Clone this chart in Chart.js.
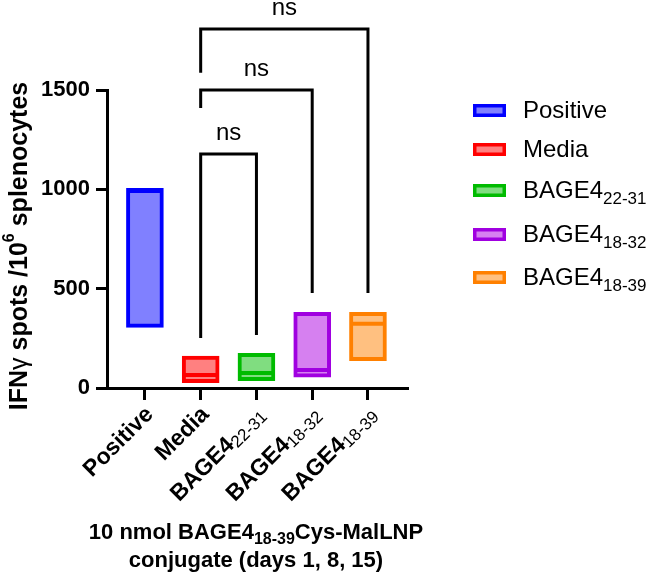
<!DOCTYPE html>
<html lang="en">
  <head>
    <meta charset="UTF-8" />
    <title>IFNg spots</title>
    <script src="https://cdn.jsdelivr.net/npm/chart.js@4.4.0/dist/chart.umd.min.js"></script>
    <style>
      body { margin: 0; background: #fff; }
      #wrap { width: 654px; height: 575px; position: relative; }
    </style>
  </head>
  <body>
    <div id="wrap">
      <canvas id="spots-chart"></canvas>
    </div>

    <script>
      // groups on the x axis (name + subscript part)
      const categories = ['Positive', 'Media', 'BAGE4', 'BAGE4', 'BAGE4'];
      const categorySubs = ['', '', '22-31', '18-32', '18-39'];

      // floating bars: min to max, line at median
      const minValues = [305, 27, 37, 55, 138];
      const maxValues = [1005, 161, 174, 381, 381];
      const medianValues = [992, 66, 76, 90, 324];

      const yTicks = [0, 500, 1000, 1500];

      // significance brackets (group numbers are 1-based)
      const bracketFrom = [2, 2, 2];
      const bracketTo = [3, 4, 5];
      const bracketTop = [1178, 1500, 1807];
      const bracketLeftEnd = [252, 1409, 1587];
      const bracketRightEnd = [267, 478, 478];
      const bracketLabels = ['ns', 'ns', 'ns'];

      const borderColors = ['#0000ff', '#ff0000', '#00bb00', '#a000e0', '#ff8000'];
      const fillColors = ['#8080ff', '#ff8080', '#80dd80', '#d680f0', '#ffc080'];

      const FONT = "'Liberation Sans', Arial, sans-serif";

      // draw a row of text pieces (for sub/superscripts)
      function drawRuns(ctx, runs, x, y, align) {
        let total = 0;
        runs.forEach((r) => {
          ctx.font = r.font;
          total += ctx.measureText(r.text).width;
        });
        let cx = align === 'right' ? x - total : align === 'center' ? x - total / 2 : x;
        runs.forEach((r) => {
          ctx.font = r.font;
          ctx.fillText(r.text, cx, y + (r.dy || 0));
          cx += ctx.measureText(r.text).width;
        });
      }

      const annotate = {
        id: 'annotate',
        afterDatasetsDraw(chart) {
          const ctx = chart.ctx;
          const xs = chart.scales.x;
          const ys = chart.scales.y;
          ctx.save();
          // median lines
          medianValues.forEach((m, i) => {
            const x = xs.getPixelForValue(i + 1);
            const y = ys.getPixelForValue(m);
            ctx.strokeStyle = borderColors[i];
            ctx.lineWidth = 4;
            ctx.beginPath();
            ctx.moveTo(x - 16, y);
            ctx.lineTo(x + 16, y);
            ctx.stroke();
          });
          ctx.restore();
        },
        afterDraw(chart) {
          const ctx = chart.ctx;
          const xs = chart.scales.x;
          const ys = chart.scales.y;
          ctx.save();
          ctx.fillStyle = '#000';

          // brackets
          ctx.strokeStyle = '#000';
          ctx.lineWidth = 3;
          ctx.lineJoin = 'miter';
          bracketFrom.forEach((f, i) => {
            const x1 = xs.getPixelForValue(f);
            const x2 = xs.getPixelForValue(bracketTo[i]);
            const yt = ys.getPixelForValue(bracketTop[i]);
            ctx.beginPath();
            ctx.moveTo(x1, ys.getPixelForValue(bracketLeftEnd[i]));
            ctx.lineTo(x1, yt);
            ctx.lineTo(x2, yt);
            ctx.lineTo(x2, ys.getPixelForValue(bracketRightEnd[i]));
            ctx.stroke();
            ctx.font = '24px ' + FONT;
            ctx.textAlign = 'center';
            ctx.textBaseline = 'alphabetic';
            ctx.fillText(bracketLabels[i], (x1 + x2) / 2, yt - 14);
          });

          // rotated category labels
          ctx.textAlign = 'left';
          ctx.textBaseline = 'middle';
          categories.forEach((c, i) => {
            const x = xs.getPixelForValue(i + 1);
            ctx.save();
            ctx.translate(x + 5, ys.bottom + 23);
            ctx.rotate(-Math.PI / 4);
            const runs = [{ text: c, font: 'bold 23px ' + FONT }];
            if (categorySubs[i]) runs.push({ text: categorySubs[i], font: '17px ' + FONT, dy: 5 });
            drawRuns(ctx, runs, 0, 0, 'right');
            ctx.restore();
          });

          // y title
          ctx.save();
          ctx.translate(20, 246);
          ctx.rotate(-Math.PI / 2);
          drawRuns(ctx, [
            { text: 'IFN', font: 'bold 25px ' + FONT },
            { text: 'γ', font: '25px ' + FONT },
            { text: ' spots /10', font: 'bold 25px ' + FONT },
            { text: '6', font: 'bold 16px ' + FONT, dy: -10 },
            { text: ' splenocytes', font: 'bold 25px ' + FONT },
          ], 0, 0, 'center');
          ctx.restore();

          // x title
          ctx.textBaseline = 'alphabetic';
          drawRuns(ctx, [
            { text: '10 nmol BAGE4', font: 'bold 22px ' + FONT },
            { text: '18-39', font: 'bold 16px ' + FONT, dy: 5 },
            { text: 'Cys-MalLNP', font: 'bold 22px ' + FONT },
          ], 256, 539, 'center');
          drawRuns(ctx, [{ text: 'conjugate (days 1, 8, 15)', font: 'bold 22px ' + FONT }], 256, 567, 'center');

          // legend
          const rowY = [111, 150, 191, 235, 278];
          categories.forEach((c, i) => {
            const y = rowY[i];
            ctx.fillStyle = fillColors[i];
            ctx.fillRect(473, y - 7, 33, 13);
            ctx.strokeStyle = borderColors[i];
            ctx.lineWidth = 3.5;
            ctx.strokeRect(474.75, y - 5.25, 29.5, 9.5);
            ctx.fillStyle = '#000';
            ctx.textBaseline = 'middle';
            const runs = [{ text: c, font: '24px ' + FONT }];
            if (categorySubs[i]) runs.push({ text: categorySubs[i], font: '17px ' + FONT, dy: 8 });
            drawRuns(ctx, runs, 523, y, 'left');
          });
          ctx.restore();
        },
      };

      const ctx = document.getElementById('spots-chart').getContext('2d');

      new Chart(ctx, {
        type: 'bar',
        data: {
          datasets: [
            {
              data: categories.map((c, i) => ({ x: i + 1, y: [minValues[i], maxValues[i]] })),
              backgroundColor: fillColors,
              borderColor: borderColors,
              borderWidth: 4,
              borderSkipped: false,
              barThickness: 37,
            },
          ],
        },
        options: {
          responsive: true,
          maintainAspectRatio: false,
          animation: false,
          layout: { padding: { left: 0, right: 247, top: 90, bottom: 0 } },
          plugins: {
            legend: { display: false },
            tooltip: { enabled: false },
          },
          scales: {
            x: {
              type: 'linear',
              min: 0.32,
              max: 5.7,
              offset: false,
              afterBuildTicks: (scale) => {
                scale.ticks = categories.map((c, i) => ({ value: i + 1 }));
              },
              afterFit: (scale) => { scale.height = 187; },
              ticks: { display: false },
              grid: { offset: false, drawOnChartArea: false, tickLength: 12, lineWidth: 3, color: '#000' },
              border: { display: true, width: 3, color: '#000' },
            },
            y: {
              min: 0,
              max: 1500,
              afterBuildTicks: (scale) => {
                scale.ticks = yTicks.map((v) => ({ value: v }));
              },
              afterFit: (scale) => { scale.width = 107; },
              ticks: {
                color: '#000',
                padding: 6,
                font: { family: FONT, size: 22, weight: 'bold' },
                callback: (v) => String(v),
              },
              grid: { drawOnChartArea: false, tickLength: 11, lineWidth: 3, color: '#000' },
              border: { display: true, width: 3, color: '#000' },
            },
          },
        },
        plugins: [annotate],
      });
    </script>
  </body>
</html>
